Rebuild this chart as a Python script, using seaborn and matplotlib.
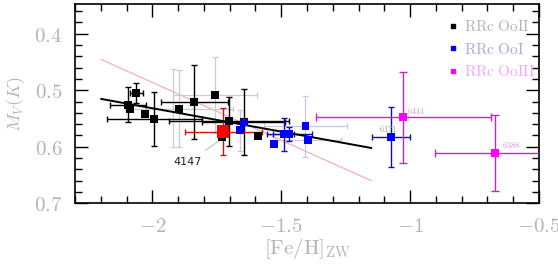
import numpy as np
import pandas as pd
import matplotlib
matplotlib.use("Agg")
import matplotlib.pyplot as plt
import seaborn as sns
from matplotlib.ticker import MultipleLocator, FuncFormatter
from matplotlib.lines import Line2D

# RRc OoII (black)
ooii_feh = [-2.094, -2.085, -2.062, -2.030, -1.992, -1.896, -1.837, -1.756, -1.729, -1.704, -1.646, -1.590]
ooii_mv = [0.526, 0.533, 0.505, 0.542, 0.551, 0.533, 0.521, 0.508, 0.582, 0.555, 0.556, 0.581]
ooii_xerr = [0.070, 0, 0.025, 0, 0.184, 0, 0.130, 0, 0, 0.233, 0.160, 0]
ooii_yerr = [0.031, 0, 0.018, 0, 0.048, 0, 0.066, 0, 0, 0.043, 0.059, 0]

# alternative (grey) error bars
alt_feh = [-1.920, -1.896, -1.756]
alt_mv = [0.531, 0.533, 0.508]
alt_xerr = [0, 0.21, 0.163]
alt_yerr = [0.069, 0.068, 0.067]

# RRc OoI (blue)
ooi_feh = [-1.646, -1.659, -1.528, -1.491, -1.469, -1.406, -1.395, -1.074]
ooi_mv = [0.557, 0.571, 0.595, 0.578, 0.577, 0.564, 0.588, 0.582]
ooi_xerr_dark = [0, 0, 0, 0.040, 0.088, 0, 0, 0.072]
ooi_yerr_dark = [0, 0, 0, 0.029, 0.012, 0, 0, 0.053]
ooi_xerr_light = [0, 0, 0, 0, 0, 0.160, 0.128, 0]
ooi_yerr_light = [0, 0.036, 0, 0, 0, 0.054, 0, 0]

# RRc OoIII (magenta)
ooiii_feh = [-1.026, -0.669]
ooiii_mv = [0.548, 0.611]
ooiii_xerr = [0.339, 0.235]
ooiii_yerr = [0.080, 0.068]

# NGC 4147 (red)
red_feh = [-1.724]
red_mv = [0.573]
red_xerr = [0.150]
red_yerr = [0.041]

# fits
fit_feh = [-2.198, -1.151]
fit_black_mv = [0.5154, 0.6021]
fit_pink_mv = [0.4457, 0.6599]

cluster_names = ["6171", "6441", "6388"]
cluster_feh = [-1.085, -0.977, -0.607]
cluster_mv = [0.568, 0.537, 0.597]
cluster_colors = ["#999999", "#f080f0", "#f080f0"]

legend_labels = ["RRc OoII", "RRc OoI", "RRc OoIII"]
legend_colors = ["black", "#0000ff", "#ff00ff"]
legend_text_colors = ["#b4b4b4", "#a8a8e8", "#f4a8f4"]

plt.rcParams["mathtext.fontset"] = "cm"

fig = plt.figure(figsize=(5.58, 2.65), dpi=100)
ax = fig.add_axes([0.1344, 0.2328, 0.8315, 0.751])

sns.lineplot(x=fit_feh, y=fit_pink_mv, color="#f4a8a8", lw=0.8, ax=ax, zorder=1)
sns.lineplot(x=fit_feh, y=fit_black_mv, color="black", lw=1.4, ax=ax, zorder=4)

ax.errorbar(alt_feh, alt_mv, xerr=alt_xerr, yerr=alt_yerr, fmt="none",
            ecolor="#cccccc", elinewidth=0.9, capsize=2.2, capthick=0.9, zorder=2)
ax.errorbar(ooi_feh, ooi_mv, xerr=ooi_xerr_light, yerr=ooi_yerr_light, fmt="none",
            ecolor="#c8c8ec", elinewidth=0.9, capsize=2.2, capthick=0.9, zorder=2)
ax.errorbar(ooii_feh, ooii_mv, xerr=ooii_xerr, yerr=ooii_yerr, fmt="none",
            ecolor="black", elinewidth=1.0, capsize=2.2, capthick=1.0, zorder=3)
ax.errorbar(red_feh, red_mv, xerr=red_xerr, yerr=red_yerr, fmt="none",
            ecolor="#d01010", elinewidth=1.0, capsize=2.2, capthick=1.0, zorder=3)
ax.errorbar(ooi_feh, ooi_mv, xerr=ooi_xerr_dark, yerr=ooi_yerr_dark, fmt="none",
            ecolor="#1010a0", elinewidth=1.0, capsize=2.2, capthick=1.0, zorder=3)
ax.errorbar(ooiii_feh, ooiii_mv, xerr=ooiii_xerr, yerr=ooiii_yerr, fmt="none",
            ecolor="#cc22cc", elinewidth=1.0, capsize=3.0, capthick=1.0, zorder=3)

df = pd.DataFrame({
    "feh": ooii_feh + ooi_feh + ooiii_feh,
    "mv": ooii_mv + ooi_mv + ooiii_mv,
    "group": ["OoII"] * len(ooii_feh) + ["OoI"] * len(ooi_feh) + ["OoIII"] * len(ooiii_feh),
})
sns.scatterplot(data=df, x="feh", y="mv", hue="group", marker="s", s=32,
                palette={"OoII": "black", "OoI": "#0000ff", "OoIII": "#ff00ff"},
                edgecolor="none", legend=False, ax=ax, zorder=5)
sns.scatterplot(x=red_feh, y=red_mv, marker="s", s=75, color="#ff0000",
                edgecolor="none", legend=False, ax=ax, zorder=6)

for name, fx, my, c in zip(cluster_names, cluster_feh, cluster_mv, cluster_colors):
    ax.text(fx, my, "$" + name + "$", color=c, fontsize=6, ha="center", va="center")

ax.annotate("4147", xy=(-1.735, 0.588), xytext=(-1.862, 0.627),
            fontsize=8, color="#222222", ha="center", va="center",
            family="DejaVu Sans",
            arrowprops=dict(arrowstyle="-", color="#bbbbbb", lw=0.7, shrinkA=5, shrinkB=0))

ax.set_xlim(-2.3, -0.5)
ax.set_ylim(0.70, 0.348)
ax.xaxis.set_major_locator(MultipleLocator(0.5))
ax.xaxis.set_minor_locator(MultipleLocator(0.1))
ax.yaxis.set_major_locator(MultipleLocator(0.1))
ax.yaxis.set_minor_locator(MultipleLocator(0.02))
ax.xaxis.set_major_formatter(FuncFormatter(lambda v, p: "$%g$" % v))
ax.yaxis.set_major_formatter(FuncFormatter(lambda v, p: "$%.1f$" % v))
ax.tick_params(which="both", direction="in", top=True, right=True, width=1.0, color="black")
ax.tick_params(which="major", length=9.5, labelsize=15, labelcolor="#b4b4b4", pad=9)
ax.tick_params(which="minor", length=5)
for s in ax.spines.values():
    s.set_linewidth(1.2)

ax.set_xlabel(r"$[\mathrm{Fe/H}]_{\mathrm{ZW}}$", fontsize=15, color="#b4b4b4", labelpad=0)
ax.set_ylabel(r"$M_V(K)$", fontsize=13, color="#b4b4b4")
ax.yaxis.set_label_coords(-0.103, 0.5)

handles = [Line2D([], [], marker="s", ls="none", color=c, markersize=3.5) for c in legend_colors]
leg = ax.legend(handles, ["$\\mathrm{" + l.replace(" ", "\\ ") + "}$" for l in legend_labels],
                loc="upper left", bbox_to_anchor=(0.79, 0.965), frameon=False,
                fontsize=11, labelcolor=legend_text_colors, handlelength=0.5,
                handletextpad=0.45, borderpad=0, labelspacing=0.5)

fig.savefig("out.png", dpi=100)
